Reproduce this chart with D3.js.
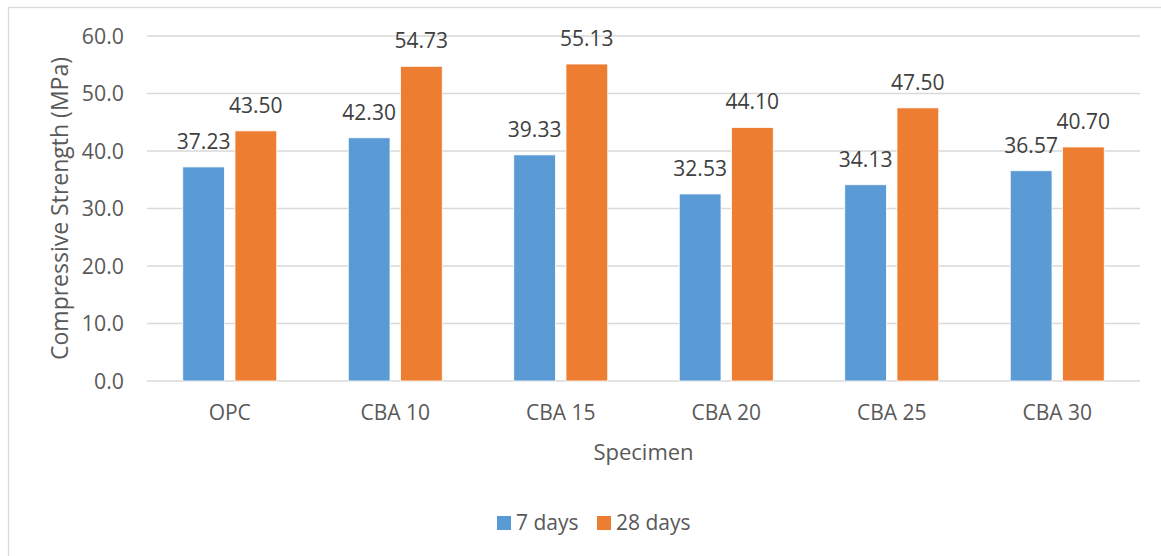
<!DOCTYPE html>
<html>
<head>
<meta charset="utf-8">
<script src="https://cdn.jsdelivr.net/npm/d3@7"></script>
<style>
  html, body { margin: 0; padding: 0; background: #fff; }
  svg { display: block; }
  text { font-family: "Open Sans", "Noto Sans", sans-serif; }
</style>
</head>
<body>
<svg id="chart" width="1161" height="556"></svg>
<script>
// Compressive strength of specimens at 7 and 28 days
const categories = ["OPC", "CBA 10", "CBA 15", "CBA 20", "CBA 25", "CBA 30"];
const seriesNames = ["7 days", "28 days"];
const days7 = [37.23, 42.30, 39.33, 32.53, 34.13, 36.57];
const days28 = [43.50, 54.73, 55.13, 44.10, 47.50, 40.70];
const yTicks = [0, 10, 20, 30, 40, 50, 60];
const colors = ["#5b9bd5", "#ed7d31"];

const svg = d3.select("#chart");
const W = 1161, H = 556;
const plot = { left: 147, right: 1140, top: 36, bottom: 381 };

// Outer chart frame
svg.append("rect")
  .attr("x", 8.5).attr("y", 7.5)
  .attr("width", W + 10).attr("height", H + 10)
  .attr("fill", "#fff").attr("stroke", "#d9d9d9").attr("stroke-width", 1.3);

const x = d3.scaleBand().domain(categories).range([plot.left, plot.right]);
const xs = d3.scaleBand().domain(seriesNames)
  .range([x.bandwidth() / 2 - 47, x.bandwidth() / 2 + 47])
  .paddingInner(0.2).paddingOuter(0);
const y = d3.scaleLinear().domain([0, 60]).range([plot.bottom, plot.top]);

// Gridlines
svg.append("g")
  .selectAll("line")
  .data(yTicks)
  .join("line")
  .attr("x1", plot.left).attr("x2", plot.right)
  .attr("y1", d => y(d)).attr("y2", d => y(d))
  .attr("stroke", "#d9d9d9").attr("stroke-width", 1.5);

// Y axis labels
const yAxis = d3.axisLeft(y).tickValues(yTicks).tickFormat(d3.format(".1f")).tickSize(0).tickPadding(0);
svg.append("g")
  .attr("transform", `translate(${plot.left - 23},0)`)
  .call(yAxis)
  .call(g => g.select(".domain").remove())
  .call(g => g.selectAll("text")
    .attr("fill", "#595959").attr("font-size", 21.3)
    .attr("font-family", "'Open Sans', sans-serif")
    .attr("dy", "0.35em"));

// X axis labels
const xAxis = d3.axisBottom(x).tickSize(0).tickPadding(0);
svg.append("g")
  .attr("transform", `translate(0,${plot.bottom})`)
  .call(xAxis)
  .call(g => g.select(".domain").remove())
  .call(g => g.selectAll("text")
    .attr("fill", "#595959").attr("font-size", 21)
    .attr("font-family", "'Open Sans', sans-serif")
    .attr("y", 39).attr("dy", 0));

// Bars
const data = categories.map((c, i) => ({ cat: c, vals: [days7[i], days28[i]] }));
const groups = svg.append("g").selectAll("g")
  .data(data).join("g")
  .attr("transform", d => `translate(${x(d.cat)},0)`);

groups.selectAll("rect")
  .data(d => d.vals.map((v, k) => ({ s: seriesNames[k], v, k })))
  .join("rect")
  .attr("x", d => xs(d.s))
  .attr("width", xs.bandwidth())
  .attr("y", d => y(d.v))
  .attr("height", d => y(0) - y(d.v))
  .attr("fill", d => colors[d.k])
  .attr("stroke", "#fff").attr("stroke-width", 0.8);

// Value labels
groups.selectAll("text.val")
  .data(d => d.vals.map((v, k) => ({ s: seriesNames[k], v, k })))
  .join("text")
  .attr("class", "val")
  .attr("x", d => xs(d.s) + xs.bandwidth() / 2)
  .attr("y", d => y(d.v) - 18)
  .attr("text-anchor", "middle")
  .attr("font-size", 21)
  .attr("fill", "#404040")
  .text(d => d.v.toFixed(2));

// Axis titles
svg.append("text")
  .attr("transform", `translate(68,${(plot.top + plot.bottom) / 2}) rotate(-90)`)
  .attr("text-anchor", "middle")
  .attr("font-size", 23)
  .attr("fill", "#595959")
  .text("Compressive Strength (MPa)");

svg.append("text")
  .attr("x", (plot.left + plot.right) / 2)
  .attr("y", 460)
  .attr("text-anchor", "middle")
  .attr("font-size", 22)
  .attr("fill", "#595959")
  .text("Specimen");

// Legend
const legendItems = [
  { name: seriesNames[0], color: colors[0], x: 497 },
  { name: seriesNames[1], color: colors[1], x: 597 }
];
const lg = svg.append("g").selectAll("g").data(legendItems).join("g")
  .attr("transform", d => `translate(${d.x},516)`);
lg.append("rect").attr("width", 14).attr("height", 14).attr("fill", d => d.color);
lg.append("text")
  .attr("x", 19).attr("y", 14)
  .attr("font-size", 21).attr("fill", "#595959")
  .text(d => d.name);
</script>
</body>
</html>
